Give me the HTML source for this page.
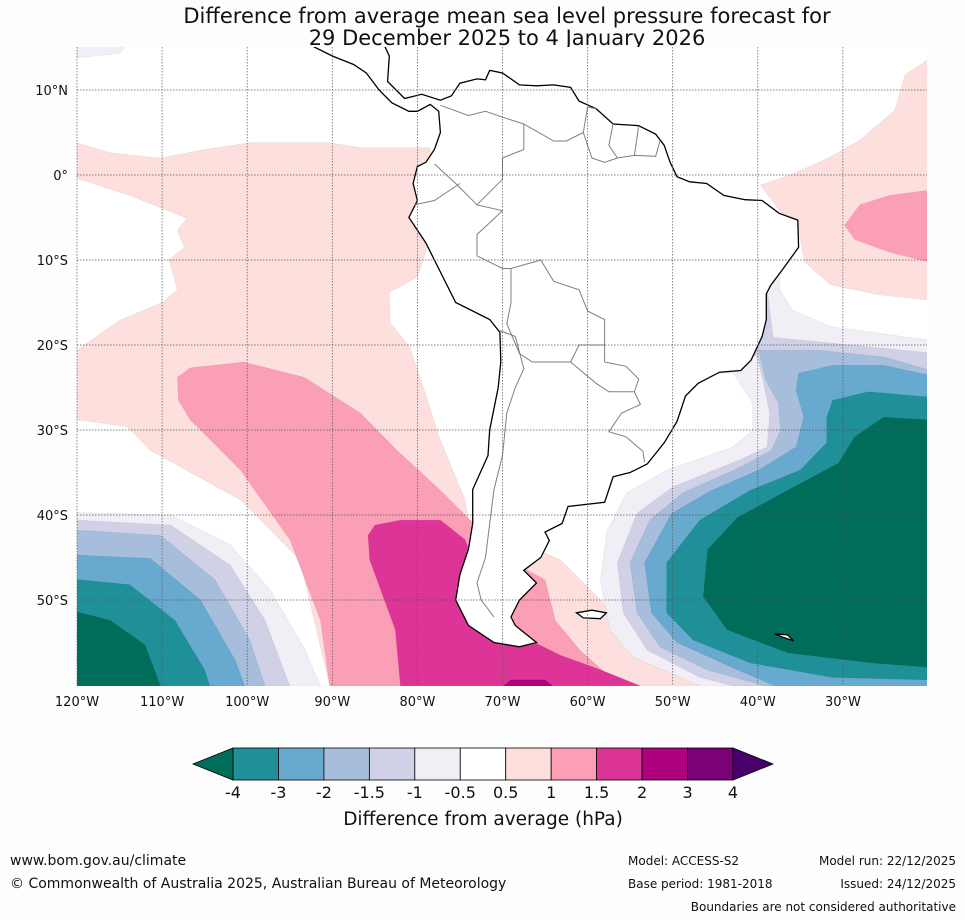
<!DOCTYPE html>
<html><head><meta charset="utf-8"><style>
body{margin:0;background:#fff;width:965px;height:919px;overflow:hidden;font-family:"DejaVu Sans","Liberation Sans",sans-serif}
svg text{font-family:"DejaVu Sans","Liberation Sans",sans-serif}
</style></head><body>
<svg id="chart" width="965" height="919" viewBox="0 0 965 919" xmlns="http://www.w3.org/2000/svg">
<rect width="965" height="919" fill="#fdfdfd"/>
<text x="507" y="23" font-size="21" text-anchor="middle" fill="#111">Difference from average mean sea level pressure forecast for</text>
<text x="507" y="45" font-size="21" text-anchor="middle" fill="#111">29 December 2025 to 4 January 2026</text>
<defs><clipPath id="mapclip"><rect x="77" y="47" width="850" height="639"/></clipPath></defs>
<g id="map" clip-path="url(#mapclip)"><rect x="77" y="47" width="850" height="639" fill="#fff"/></g>
<g id="axes"></g>
<g id="cbar"></g>
<text x="483" y="825" font-size="18.5" text-anchor="middle" fill="#111">Difference from average (hPa)</text>
<text x="10" y="865" font-size="14" fill="#111">www.bom.gov.au/climate</text>
<text x="10" y="888" font-size="14" fill="#111">© Commonwealth of Australia 2025, Australian Bureau of Meteorology</text>
<text x="628" y="865" font-size="12" fill="#111">Model: ACCESS-S2</text>
<text x="628" y="888" font-size="12" fill="#111">Base period: 1981-2018</text>
<text x="956" y="865" font-size="12" text-anchor="end" fill="#111">Model run: 22/12/2025</text>
<text x="956" y="888" font-size="12" text-anchor="end" fill="#111">Issued: 24/12/2025</text>
<text x="956" y="911" font-size="12" text-anchor="end" fill="#111">Boundaries are not considered authoritative</text>
</svg>
<script>
const lonTicks=[-120,-110,-100,-90,-80,-70,-60,-50,-40,-30];
const latTicks=[10,0,-10,-20,-30,-40,-50];
const cbLevels=["-4","-3","-2","-1.5","-1","-0.5","0.5","1","1.5","2","3","4"];
const cbColors=["#1f9098","#67a9cf","#a6bddb","#d0d1e6","#f1eef6","#ffffff","#fde0dd","#fa9fb5","#dd3497","#ae017e","#7a0177"];
const cbLow="#006d5b", cbHigh="#49006a";
const contourPink05W=[[-120,3.8],[-116.1,2.6],[-110.2,2],[-105.5,2.9],[-99.7,3.8],[-90.3,3.8],[-86.7,3.2],[-78.5,3.2],[-77.3,-2.9],[-79,-9],[-80,-12],[-83.3,-13.8],[-83.2,-17.4],[-80.9,-20.2],[-79.2,-25.3],[-77.3,-31.2],[-74.4,-38.2],[-73.8,-41.8],[-68,-42],[-66,-44],[-63.2,-45.3],[-58.5,-50],[-52.7,-55.9],[-46.8,-60.1],[-90.3,-60.1],[-93.8,-45.3],[-100.8,-38.2],[-111.4,-32.4],[-114.1,-29.6],[-120,-28.8],[-120,-20.6],[-115,-17.1],[-109.8,-14.9],[-108.2,-13.5],[-109.2,-10],[-107.4,-8.5],[-108.2,-6.5],[-107.1,-5.1],[-113.8,-2.4],[-120,-0.4]];
const contourPink1W=[[-108.2,-23.8],[-106.7,-22.7],[-100.4,-22],[-93.3,-23.8],[-86.7,-28],[-82.4,-32.4],[-77.3,-37.1],[-73.8,-40.6],[-70,-43],[-68,-46],[-65,-47.6],[-63.8,-52.4],[-60.9,-55.9],[-56.2,-60.1],[-90.3,-60.1],[-91.4,-52.4],[-95,-42.9],[-100.8,-34.7],[-106.7,-28.8],[-108.1,-26.5]];
const contourMag15=[[-85,-41.2],[-82,-40.6],[-77.3,-40.6],[-74.4,-42.9],[-72.6,-47.6],[-70.3,-52.4],[-66.8,-54.7],[-63.2,-56.5],[-58.5,-58.2],[-53.8,-60.1],[-82,-60.1],[-82.6,-53.5],[-85.6,-45.3],[-85.8,-42.4]];
const contourMag2=[[-70,-60.2],[-69,-59.4],[-65,-59.4],[-64,-60.2]];
const contourPink05NE=[[-20,15],[-20.1,13.5],[-22.7,11.8],[-23.9,7.6],[-28,4.1],[-32.1,1.8],[-36.2,0],[-39.7,-1.2],[-36,-6],[-35,-7.6],[-34.5,-10.2],[-31.5,-12.9],[-25.6,-14.1],[-20,-14.7]];
const contourPink1NE=[[-20,-1.8],[-24.5,-2.4],[-28,-3.5],[-29.8,-5.9],[-28.6,-7.6],[-24.5,-9.1],[-20,-10.2]];
const contourNeg05E=[[-37.4,-10.8],[-38.6,-8.2],[-40.1,-8.5],[-43.6,-10],[-46.8,-14.4],[-50.3,-19.4],[-50.3,-22.6],[-46.8,-23.3],[-42.9,-23.3],[-40.6,-26.8],[-40.6,-30],[-42.9,-32],[-50.7,-34.7],[-55.4,-37.4],[-57.7,-41.8],[-58.5,-47.6],[-57.4,-53.5],[-54.7,-56.7],[-46.8,-60.1],[-20,-60.1],[-20,-19.4],[-31.2,-17.9],[-35.9,-15.9],[-37.4,-13.5]];
const contourNeg1E=[[-38.9,-13.5],[-40.1,-11.2],[-41.7,-12.4],[-42.1,-15.5],[-45.6,-17.1],[-46.4,-20.9],[-44.8,-22.1],[-40.1,-21.2],[-39.4,-24.1],[-38.6,-28],[-38.9,-32],[-42.1,-33.5],[-50,-36.7],[-54.2,-39.8],[-56.5,-45.6],[-55.8,-51.5],[-53,-55.9],[-46.8,-59.1],[-42.9,-60.1],[-20,-60.1],[-20,-20.9],[-31.2,-19.8],[-38.2,-19.1]];
const contourNeg15Patch=[[-42,-18.5],[-40.5,-17.6],[-39.5,-18.5],[-40,-20.2],[-41.8,-20]];
const contourNeg15E=[[-39.9,-20.6],[-39.1,-24.1],[-37.6,-26.8],[-37.3,-30],[-38.4,-32.4],[-42.1,-34.4],[-48.8,-37.4],[-52.7,-40.6],[-55,-45.6],[-54.2,-51.5],[-51.5,-55.5],[-46,-58.2],[-39.1,-60.1],[-20,-60.1],[-20,-22.9],[-25.2,-21.4],[-33,-20.6]];
const contourNeg2E=[[-35.2,-23.3],[-35.5,-25.3],[-34.6,-28.5],[-35.5,-32],[-39.9,-34.7],[-45.4,-37.1],[-50.1,-39.8],[-53.3,-45.6],[-52.5,-51.5],[-49.5,-55],[-43.1,-57.9],[-38,-60.1],[-20,-60.1],[-20,-23.5],[-25.2,-22.4],[-31.2,-22.4]];
const contourNeg3E=[[-31.2,-26.5],[-31.9,-28.5],[-31.9,-31.5],[-35,-34.7],[-40.9,-37.1],[-46.8,-40.6],[-50.7,-45.6],[-50.7,-51.5],[-47.6,-54.7],[-40.9,-57.4],[-31.2,-59.1],[-20,-59.4],[-20,-26.1],[-27,-25.5]];
const contourNeg4E=[[-20,-28.8],[-25.2,-28.5],[-28.6,-30.8],[-30.5,-33.9],[-36.5,-37.1],[-42.4,-40.3],[-45.9,-44.1],[-46.4,-49.6],[-43.6,-53.5],[-36.5,-56.2],[-26.7,-57.4],[-20,-57.9]];
const contourNeg05W=[[-120,-39.7],[-109,-40],[-102,-43.5],[-97.3,-48.8],[-93.2,-55.9],[-91.4,-60.1],[-120,-60.1]];
const contourNeg1W=[[-120,-40.6],[-109,-41.2],[-102,-45.9],[-97.9,-52.4],[-95,-60.1],[-120,-60.1]];
const contourNeg15W=[[-120,-41.8],[-110.2,-42.4],[-103.8,-47.6],[-99.7,-54.7],[-97.9,-60.1],[-120,-60.1]];
const contourNeg2W=[[-120,-44.7],[-111.4,-45.1],[-105.5,-50],[-101.4,-57.1],[-100.3,-60.1],[-120,-60.1]];
const contourNeg3W=[[-120,-47.6],[-113.8,-48.2],[-108.5,-52.4],[-105,-58.2],[-104.4,-60.1],[-120,-60.1]];
const contourNeg4W=[[-120,-51.4],[-116.1,-52.4],[-112,-55.3],[-110.2,-60.1],[-120,-60.1]];
const contourNeg05Top=[[-120,15.5],[-114,15.5],[-115,14.3],[-120,13.8]];
const landSA=[[-96,15.5],[-95,16],[-94,16],[-92,15],[-90,14],[-87.5,13],[-86,12],[-84.5,10],[-83,8.5],[-81,7.5],[-80,7.5],[-78.5,8.3],[-77.5,7.5],[-77.3,5],[-78,3],[-79,1.5],[-80,1],[-80.5,-1],[-80,-3],[-81,-5],[-79,-8],[-77,-12],[-75.5,-15],[-71.5,-17],[-70.3,-18.5],[-70.2,-22],[-70.5,-25],[-71.5,-30],[-71.7,-33],[-73.5,-37],[-73.5,-41],[-74,-44],[-75,-47],[-75.5,-50],[-74,-53],[-71,-55],[-68,-55.5],[-66,-55],[-68.5,-53],[-69,-52],[-68,-50],[-66,-48],[-67.5,-46.5],[-65.5,-45],[-64.5,-43],[-65,-42],[-63,-41],[-62.3,-39],[-58,-38.5],[-57.5,-37],[-57,-35.5],[-55,-35],[-53,-34],[-51,-31.5],[-49.5,-29],[-48.5,-26],[-47,-24.5],[-44.5,-23.2],[-42,-23],[-40.8,-21.8],[-39.5,-19],[-39,-17],[-39,-14],[-38.5,-13],[-37,-11],[-35.2,-8.5],[-35.3,-5.3],[-37.5,-4.5],[-39.5,-3],[-41.5,-2.9],[-44,-2.4],[-46,-1],[-48,-0.8],[-49.5,-0.2],[-50.3,1.5],[-51,3.5],[-52,4.8],[-54,5.8],[-57,6],[-59,7.8],[-61,8.7],[-62,10.3],[-64,10.6],[-66,10.5],[-68,10.6],[-70,12.0],[-71.5,12.3],[-72,11.2],[-73,11.3],[-75,10.8],[-76,9.3],[-77.3,8.8],[-79.5,9.5],[-81.5,9],[-83.5,11],[-83.3,14],[-84,15.5],[-88,15.8],[-89,15.5]];
const landFalklands=[[-61.3,-51.5],[-59.5,-51.2],[-57.8,-51.5],[-58.5,-52.2],[-60.5,-52.1]];
const landSouthGeorgia=[[-38,-54],[-36.5,-54.1],[-35.8,-54.8],[-37,-54.4]];
const borders=[
 [[-77.3,8.2],[-74,7],[-72,7.5],[-70,6.8],[-67.5,6],[-67.5,3],[-70,2],[-70,-0.5],[-73,-3.5],[-70,-4.2]],
 [[-73,-3.5],[-75.5,-1],[-78,1.3]],
 [[-80.3,-3.5],[-78,-3],[-75,-1]],
 [[-70,-4.2],[-73,-7],[-73,-9.5],[-70,-11],[-69,-11],[-65.5,-10],[-64,-12.5],[-61,-13.5],[-60,-16],[-58,-17],[-58,-20],[-58,-22]],
 [[-69,-11],[-69,-15],[-69.5,-17.5],[-68,-21],[-66.5,-22],[-64,-22],[-62,-22],[-61,-20],[-58,-20]],
 [[-70.3,-18.3],[-68.5,-19],[-67.5,-22.8],[-68.5,-25],[-69.5,-28],[-70,-33],[-71,-37],[-71.5,-41],[-72,-45],[-73,-48],[-72.5,-50],[-71,-52]],
 [[-62,-22],[-59,-24.5],[-57.5,-25.5],[-54.5,-25.5],[-54,-24],[-55.5,-22.5],[-58,-22]],
 [[-54.5,-25.5],[-53.8,-27],[-56,-28],[-57.5,-30.2],[-55.5,-30.8],[-53.5,-32.5],[-53.3,-33.8]],
 [[-67.5,6],[-64,4],[-62.5,4],[-60.5,5],[-60,8],[-59,7.8]],
 [[-60.5,5],[-59.5,2],[-58,1.5],[-56.5,2],[-54.5,2.3],[-52,2.2],[-51.5,4]],
 [[-57,6],[-57.5,3.5],[-56.5,2]],[[-54,5.8],[-54.5,2.3]]
];
const NS="http://www.w3.org/2000/svg";
const X0=77,X1=927,Y0=47,Y1=686;
function xScale(lon){return X0+(lon+120)*8.51;}
function yScale(lat){return 175-lat*8.5;}
function pathOf(pts,close){return pts.map((p,i)=>(i?'L':'M')+xScale(p[0]).toFixed(1)+','+yScale(p[1]).toFixed(1)).join('')+(close?'Z':'');}
const map=document.getElementById('map');
function poly(pts,fill,name){
 const p=document.createElementNS(NS,'path');
 p.setAttribute('d',pathOf(pts,true));
 p.setAttribute('fill',fill);
 p.setAttribute('stroke','rgba(0,0,0,0.08)');
 p.setAttribute('stroke-width','0.6');
 
 
 map.appendChild(p);
}
poly(contourNeg05Top,cbColors[4],'contour-neg05-north');
poly(contourPink05W,cbColors[6],'contour-pos05-west');
poly(contourPink1W,cbColors[7],'contour-pos1-west');
poly(contourMag15,cbColors[8],'contour-pos15-south');
poly(contourMag2,cbColors[9],'contour-pos2-south');
poly(contourPink05NE,cbColors[6],'contour-pos05-northeast');
poly(contourPink1NE,cbColors[7],'contour-pos1-northeast');
poly(contourNeg05E,cbColors[4],'contour-neg05-east');
poly(contourNeg1E,cbColors[3],'contour-neg1-east');
poly(contourNeg15Patch,cbColors[2],'contour-neg15-patch');
poly(contourNeg15E,cbColors[2],'contour-neg15-east');
poly(contourNeg2E,cbColors[1],'contour-neg2-east');
poly(contourNeg3E,cbColors[0],'contour-neg3-east');
poly(contourNeg4E,cbLow,'contour-neg4-east');
poly(contourNeg05W,cbColors[4],'contour-neg05-west');
poly(contourNeg1W,cbColors[3],'contour-neg1-west');
poly(contourNeg15W,cbColors[2],'contour-neg15-west');
poly(contourNeg2W,cbColors[1],'contour-neg2-west');
poly(contourNeg3W,cbColors[0],'contour-neg3-west');
poly(contourNeg4W,cbLow,'contour-neg4-west');
function land(pts,name){
 const p=document.createElementNS(NS,'path');
 p.setAttribute('d',pathOf(pts,true));
 p.setAttribute('fill','#fff');
 p.setAttribute('stroke','#000');
 p.setAttribute('stroke-width','1.3');
 
 
 map.appendChild(p);
}
land(landSA,'south-america-coastline');
land(landFalklands,'falkland-islands');
land(landSouthGeorgia,'south-georgia');
borders.forEach(b=>{
 const p=document.createElementNS(NS,'path');
 p.setAttribute('d',pathOf(b,false));
 p.setAttribute('fill','none');
 p.setAttribute('stroke','#808080');
 p.setAttribute('stroke-width','1');
 
 
 map.appendChild(p);
});
const axes=document.getElementById('axes');
lonTicks.forEach(lon=>{
 const x=xScale(lon);
 const l=document.createElementNS(NS,'line');
 l.setAttribute('x1',x);l.setAttribute('x2',x);l.setAttribute('y1',Y0);l.setAttribute('y2',Y1);
 l.setAttribute('stroke','#555');l.setAttribute('stroke-width','0.7');l.setAttribute('stroke-dasharray','1.5,1.5');
 
 
 axes.appendChild(l);
 const t=document.createElementNS(NS,'text');
 t.setAttribute('x',x);t.setAttribute('y',706);t.setAttribute('font-size','13');t.setAttribute('text-anchor','middle');t.setAttribute('fill','#111');
 t.textContent=Math.abs(lon)+'°W';
 
 
 axes.appendChild(t);
});
latTicks.forEach(lat=>{
 const y=yScale(lat);
 const l=document.createElementNS(NS,'line');
 l.setAttribute('x1',X0);l.setAttribute('x2',X1);l.setAttribute('y1',y);l.setAttribute('y2',y);
 l.setAttribute('stroke','#555');l.setAttribute('stroke-width','0.7');l.setAttribute('stroke-dasharray','1.5,1.5');
 
 
 axes.appendChild(l);
 const t=document.createElementNS(NS,'text');
 t.setAttribute('x',68);t.setAttribute('y',y+5);t.setAttribute('font-size','13');t.setAttribute('text-anchor','end');t.setAttribute('fill','#111');
 t.textContent=lat===0?'0°':Math.abs(lat)+'°'+(lat>0?'N':'S');
 
 
 axes.appendChild(t);
});
const cb=document.getElementById('cbar');
const CBX=233,CBY=748,CBH=32;
const step=500/(cbLevels.length-1);
for(let i=0;i<cbLevels.length-1;i++){
 const r=document.createElementNS(NS,'rect');
 r.setAttribute('x',CBX+i*step);r.setAttribute('y',CBY);r.setAttribute('width',step);r.setAttribute('height',CBH);
 r.setAttribute('fill',cbColors[i]);
 r.setAttribute('stroke','#000');r.setAttribute('stroke-width','0.8');
 
 
 cb.appendChild(r);
}
const triL=document.createElementNS(NS,'path');
triL.setAttribute('d',`M${CBX},${CBY}L${CBX-40},${CBY+CBH/2}L${CBX},${CBY+CBH}Z`);
triL.setAttribute('fill',cbLow);triL.setAttribute('stroke','#000');triL.setAttribute('stroke-width','0.8');


cb.appendChild(triL);
const triR=document.createElementNS(NS,'path');
triR.setAttribute('d',`M${CBX+500},${CBY}L${CBX+540},${CBY+CBH/2}L${CBX+500},${CBY+CBH}Z`);
triR.setAttribute('fill',cbHigh);triR.setAttribute('stroke','#000');triR.setAttribute('stroke-width','0.8');


cb.appendChild(triR);
cbLevels.forEach((v,i)=>{
 const t=document.createElementNS(NS,'text');
 t.setAttribute('x',CBX+i*step);t.setAttribute('y',798);t.setAttribute('font-size','16');t.setAttribute('text-anchor','middle');t.setAttribute('fill','#111');
 t.textContent=v;
 
 
 cb.appendChild(t);
});
</script>
</body></html>
